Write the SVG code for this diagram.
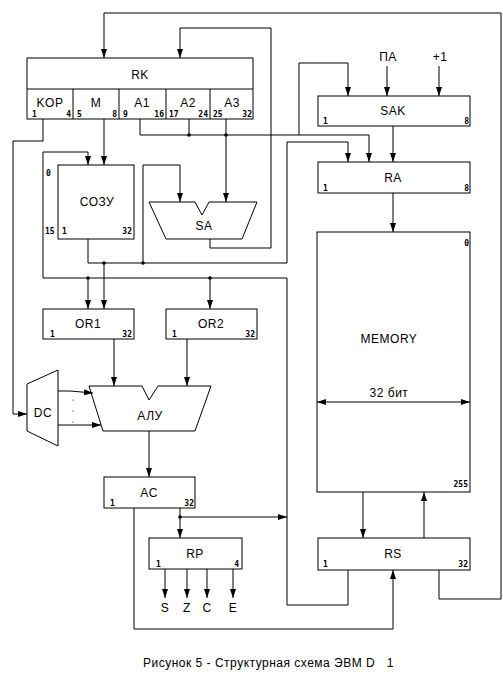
<svg xmlns="http://www.w3.org/2000/svg" width="503" height="694" viewBox="0 0 503 694">
<style>
.b{fill:none;stroke:#000;stroke-width:1}
.c path{fill:none;stroke:#000;stroke-width:1}
.l{font-family:"Liberation Sans",Arial,sans-serif;font-size:12px;text-anchor:middle;letter-spacing:0.5px}
.n{font-family:"DejaVu Sans Mono",monospace;font-size:8px;font-weight:bold}
.e{text-anchor:end}
.d{fill:#000}
</style>
<defs>
<marker id="a" markerWidth="9" markerHeight="6" viewBox="0 0 9 6" refX="9" refY="3" orient="auto-start-reverse" markerUnits="userSpaceOnUse"><path d="M0,0 L9,3 L0,6z" fill="#000"/></marker>
</defs>
<rect width="503" height="694" fill="#fff"/>

<g id="RK">
<rect class="b" x="27" y="58" width="226" height="61"/>
<path class="b" d="M27,89H253M73,89V119M119,89V119M166,89V119M210,89V119"/>
<text class="l" x="140" y="79">RK</text>
<text class="l" x="50" y="107">KOP</text>
<text class="l" x="96" y="107">M</text>
<text class="l" x="142" y="107">A1</text>
<text class="l" x="188" y="107">A2</text>
<text class="l" x="232" y="107">A3</text>
<text class="n" x="32" y="117">1</text><text class="n e" x="71" y="117">4</text>
<text class="n" x="77" y="117">5</text><text class="n e" x="117" y="117">8</text>
<text class="n" x="123" y="117">9</text><text class="n e" x="164" y="117">16</text>
<text class="n" x="169" y="117">17</text><text class="n e" x="208" y="117">24</text>
<text class="n" x="213" y="117">25</text><text class="n e" x="252" y="117">32</text>
</g>

<g id="SOZU">
<rect class="b" x="58" y="165" width="76" height="74"/>
<text class="l" x="97" y="206">СОЗУ</text>
<text class="n" x="46" y="176">0</text>
<text class="n" x="45" y="234">15</text>
<text class="n" x="62" y="234">1</text>
<text class="n e" x="132" y="234">32</text>
</g>

<g id="SA">
<polygon class="b" points="149,202 195,202 202,215 209,202 257,202 242,239 166,239"/>
<text class="l" x="204" y="230">SA</text>
</g>

<g id="SAK">
<rect class="b" x="318" y="96" width="152" height="30"/>
<text class="l" x="393" y="115">SAK</text>
<text class="n" x="323" y="124">1</text>
<text class="n e" x="469" y="124">8</text>
</g>

<g id="inputs">
<text class="l" x="388" y="61">ПА</text>
<text class="l" x="440" y="61">+1</text>
</g>

<g id="RA">
<rect class="b" x="318" y="162" width="152" height="31"/>
<text class="l" x="393" y="182">RA</text>
<text class="n" x="323" y="191">1</text>
<text class="n e" x="469" y="191">8</text>
</g>

<g id="MEMORY">
<rect class="b" x="317" y="232" width="153" height="260"/>
<text class="l" x="389" y="343">MEMORY</text>
<text class="n e" x="469" y="246">0</text>
<text class="n e" x="468" y="487">255</text>
<text class="l" x="389" y="397">32 бит</text>
</g>

<g id="OR1">
<rect class="b" x="43" y="309" width="91" height="30"/>
<text class="l" x="88" y="328">OR1</text>
<text class="n" x="50" y="337">1</text>
<text class="n e" x="132" y="337">32</text>
</g>

<g id="OR2">
<rect class="b" x="166" y="309" width="91" height="30"/>
<text class="l" x="211" y="328">OR2</text>
<text class="n" x="172" y="337">1</text>
<text class="n e" x="255" y="337">32</text>
</g>

<g id="ALU">
<polygon class="b" points="89,386 142,386 149,400 158,386 211,386 195,431 103,431"/>
<text class="l" x="150" y="420">АЛУ</text>
</g>

<g id="DC">
<polygon class="b" points="27,384 58,370 58,446 27,431"/>
<text class="l" x="43" y="417">DC</text>
</g>

<g id="AC">
<rect class="b" x="104" y="477" width="91" height="31"/>
<text class="l" x="149" y="497">AC</text>
<text class="n" x="110" y="506">1</text>
<text class="n e" x="194" y="506">32</text>
</g>

<g id="RP">
<rect class="b" x="149" y="538" width="93" height="31"/>
<text class="l" x="195" y="558">RP</text>
<text class="n" x="156" y="567">1</text>
<text class="n e" x="239" y="567">4</text>
<text class="l" x="165" y="612">S</text>
<text class="l" x="187" y="612">Z</text>
<text class="l" x="207" y="612">C</text>
<text class="l" x="233" y="612">E</text>
</g>

<g id="RS">
<rect class="b" x="318" y="538" width="152" height="32"/>
<text class="l" x="393" y="558">RS</text>
<text class="n" x="323" y="567">1</text>
<text class="n e" x="468" y="567">32</text>
</g>

<g id="connectors" class="c">
<path d="M439,570V599H501V13H104V58" marker-end="url(#a)"/>
<path d="M210,239V248H271V28H180V58" marker-end="url(#a)"/>
<path d="M43,119V141H13V414H27" marker-end="url(#a)"/>
<path d="M104,119V165" marker-end="url(#a)"/>
<path d="M140,119V135H369V162" marker-end="url(#a)"/>
<path d="M189,119V135"/>
<path d="M226,119V202" marker-end="url(#a)"/>
<path d="M299,135V63H348V96" marker-end="url(#a)"/>
<path d="M387,66V96" marker-end="url(#a)"/>
<path d="M439,66V96" marker-end="url(#a)"/>
<path d="M393,126V162" marker-end="url(#a)"/>
<path d="M393,193V232" marker-end="url(#a)"/>
<path d="M88,239V263H287V142H348V162" marker-end="url(#a)"/>
<path d="M104,263V309" marker-end="url(#a)"/>
<path d="M143,263V165H180V202" marker-end="url(#a)"/>
<path d="M348,570V605H287V278H43V152H88V165" marker-end="url(#a)"/>
<path d="M88,278V309" marker-end="url(#a)"/>
<path d="M210,278V309" marker-end="url(#a)"/>
<path d="M114,339V386" marker-end="url(#a)"/>
<path d="M187,339V386" marker-end="url(#a)"/>
<path d="M58,391H70L93,393" marker-end="url(#a)"/>
<path d="M58,425H101" marker-end="url(#a)"/>
<path d="M149,431V477" marker-end="url(#a)"/>
<path d="M180,508V538" marker-end="url(#a)"/>
<path d="M180,517H287" marker-end="url(#a)"/>
<path d="M134,508V629H393V570" marker-end="url(#a)"/>
<path d="M363,492V538" marker-end="url(#a)"/>
<path d="M424,538V492" marker-end="url(#a)"/>
<path d="M165,569V598" marker-end="url(#a)"/>
<path d="M187,569V598" marker-end="url(#a)"/>
<path d="M207,569V598" marker-end="url(#a)"/>
<path d="M233,569V598" marker-end="url(#a)"/>
<path d="M317,402H470" marker-start="url(#a)" marker-end="url(#a)"/>
<circle class="d" cx="189" cy="135" r="1.8"/>
<circle class="d" cx="226" cy="135" r="1.8"/>
<circle class="d" cx="104" cy="263" r="1.8"/>
<circle class="d" cx="143" cy="263" r="1.8"/>
<circle class="d" cx="88" cy="278" r="1.8"/>
<circle class="d" cx="210" cy="278" r="1.8"/>
<circle class="d" cx="180" cy="517" r="1.8"/>
<circle class="d" cx="73" cy="400" r="0.6"/>
<circle class="d" cx="73" cy="411" r="0.6"/>
<circle class="d" cx="73" cy="422" r="0.6"/>
</g>

<text x="143" y="667" style="font-family:'Liberation Sans',Arial,sans-serif;font-size:12px;letter-spacing:0.5px;white-space:pre">Рисунок 5 - Структурная схема ЭВМ D   1</text>
</svg>
